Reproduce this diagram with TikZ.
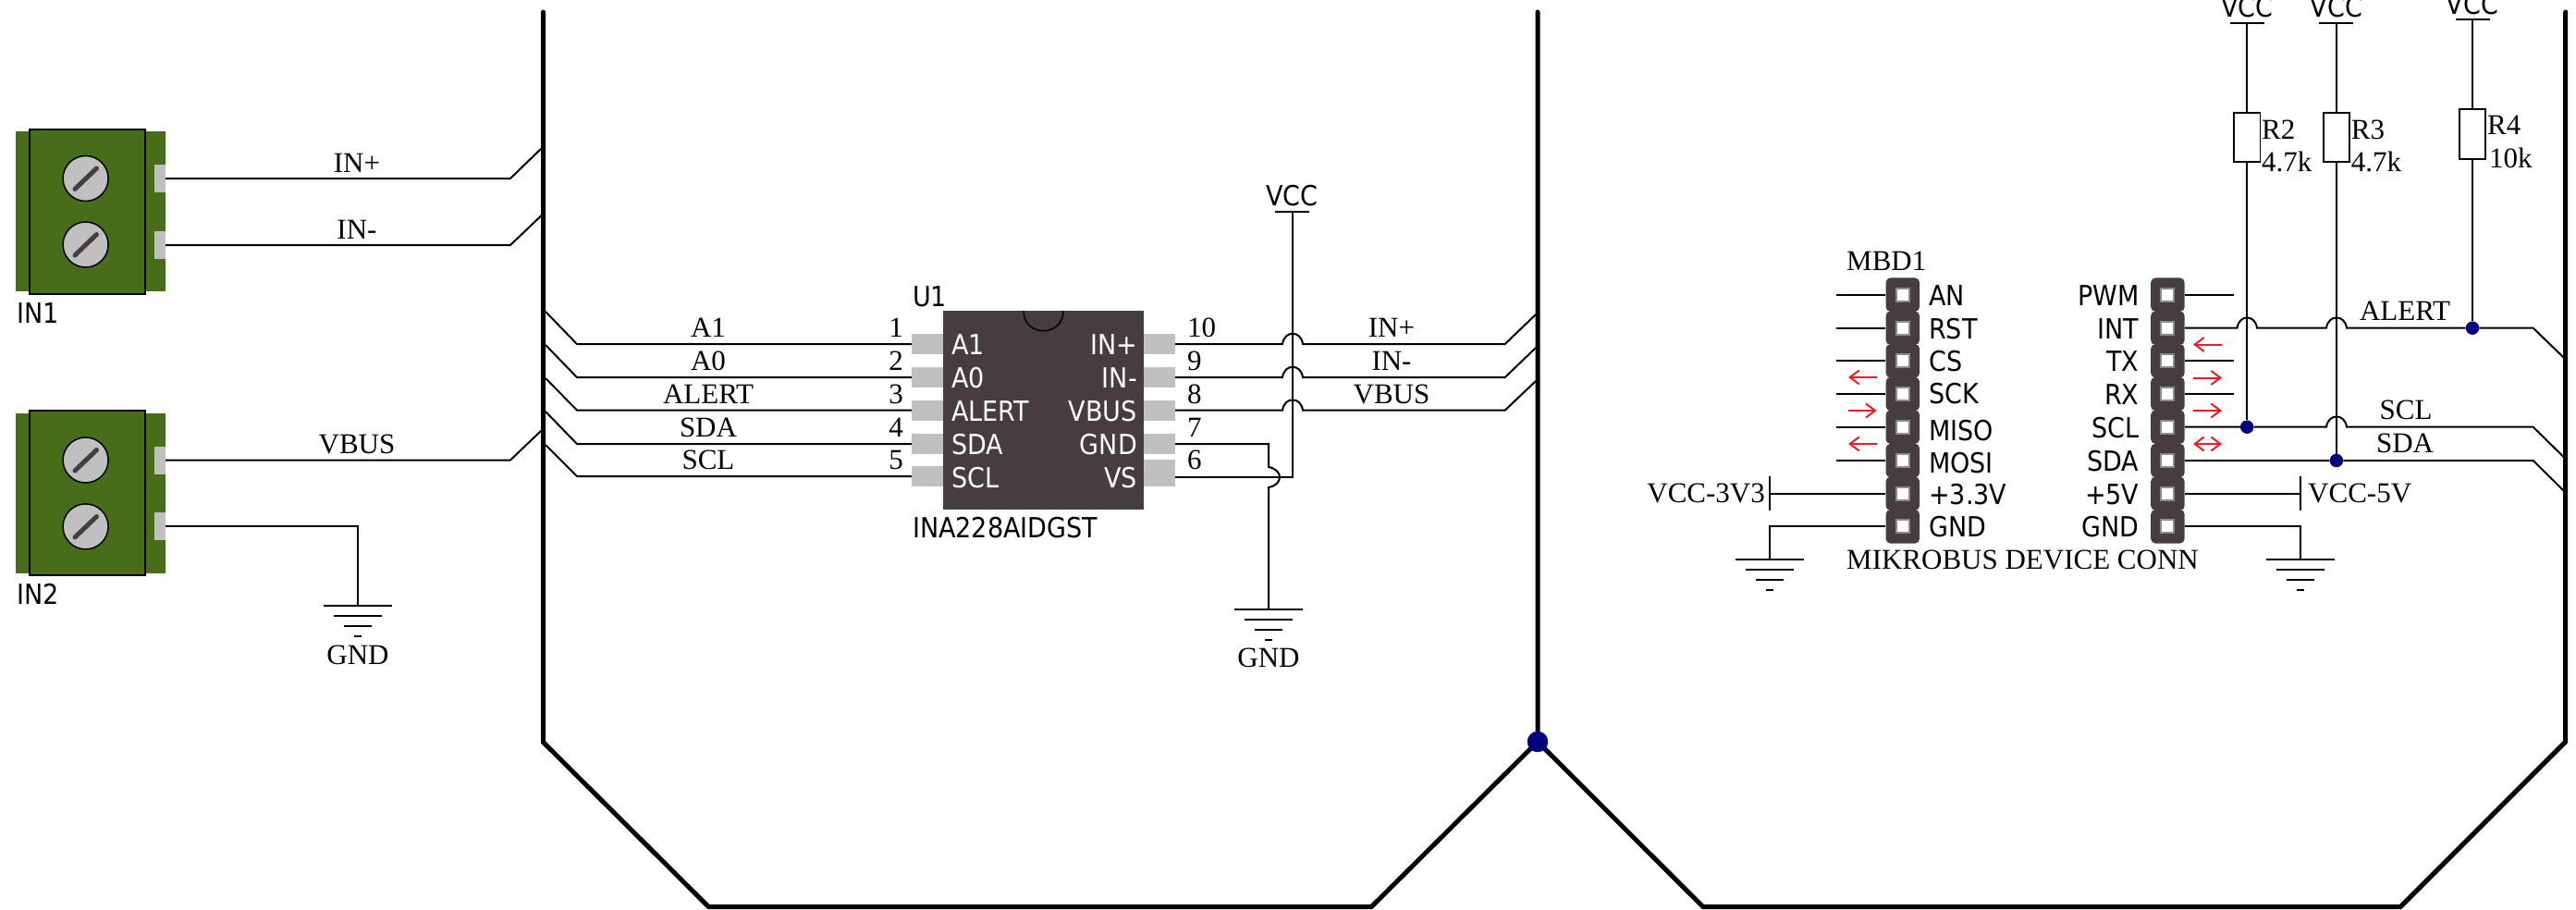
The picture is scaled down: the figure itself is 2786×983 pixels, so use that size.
\documentclass[tikz,border=0pt]{standalone}
\usepackage{fontspec}
\usetikzlibrary{arrows.meta}
\setmainfont{Liberation Serif}
\newfontfamily\sanf{DejaVu Sans Condensed}
\definecolor{icgray}{HTML}{453D3F}
\definecolor{termgreen}{HTML}{476C1A}
\definecolor{padgray}{HTML}{C0C0C0}
\definecolor{dotnavy}{HTML}{000080}
\definecolor{sigred}{HTML}{ED1C24}
\tikzset{
  ser/.style={font=\fontsize{31}{31}\selectfont,inner sep=0pt,text=black},
  san/.style={font=\fontsize{30}{30}\selectfont\sanf,inner sep=0pt,text=black},
  wht/.style={font=\fontsize{30}{30}\selectfont\sanf,inner sep=0pt,text=white},
  wire/.style={draw=black,line width=2pt},
  frame/.style={draw=black,line width=5pt,miter limit=10},
  pad/.style={rectangle,fill=padgray,inner sep=0pt,minimum width=34pt,minimum height=22pt},
  tab/.style={rectangle,fill=padgray,inner sep=0pt,minimum width=12pt,minimum height=30pt},
  screw/.style={circle,draw=black,line width=1.5pt,fill=padgray,inner sep=0pt,minimum size=49pt},
  hdr/.style={rectangle,rounded corners=5pt,fill=icgray,inner sep=0pt,minimum width=36.5pt,minimum height=36.5pt},
  hole/.style={rectangle,draw=gray!90,line width=2pt,fill=white,inner sep=0pt,minimum width=14pt,minimum height=14pt},
  res/.style={rectangle,draw=black,line width=1.8pt,fill=white,inner sep=0pt,minimum width=28.5pt,minimum height=53.5pt},
  dot/.style={circle,fill=dotnavy,inner sep=0pt,minimum size=14.5pt},
  sig/.style={draw=sigred,line width=2pt},
  rarr/.style={sig,-{Straight Barb[length=10pt,width=15pt,line width=2pt]}},
  larr/.style={sig,{Straight Barb[length=10pt,width=15pt,line width=2pt]}-},
  barr/.style={sig,{Straight Barb[length=10pt,width=15pt,line width=2pt]}-{Straight Barb[length=10pt,width=15pt,line width=2pt]}},
  gnd/.pic={
    \draw[line width=2pt] (-37,0) -- (37,0);
    \draw[line width=2pt] (-26,11) -- (26,11);
    \draw[line width=2pt] (-15,22) -- (15,22);
    \draw[line width=2pt] (-4,33) -- (4,33);
  },
  vbar/.pic={\draw[line width=2pt] (-18.5,0) -- (18.5,0);}
}
\begin{document}
\begin{tikzpicture}[x=1pt,y=-1pt]
\useasboundingbox (0,0) rectangle (2786,983);

% --- frames
\coordinate (fa) at (587.5,13);
\coordinate (fb) at (587.5,802.5);
\coordinate (fc) at (766.5,980.7);
\coordinate (fd) at (1483,980.7);
\coordinate (fe) at (1663,802);
\coordinate (ff) at (1663,13);
\coordinate (fg) at (1842,980.7);
\coordinate (fh) at (2596,980.7);
\coordinate (fi) at (2774.7,802);
\coordinate (fj) at (2774.7,13);
\draw[frame,line cap=round] (fa) -- (fb) -- (fc) -- (fd) -- (fe);
\draw[frame,line cap=round] (ff) -- (fe) -- (fg) -- (fh) -- (fi) -- (fj);
\node[circle,fill=dotnavy,inner sep=0pt,minimum size=22.5pt] (fdot) at (fe) {};

% --- terminal IN1
\fill[termgreen] (17,142) rectangle (179,315);
\node[rectangle,draw=black,line width=1.8pt,fill=termgreen,inner sep=0pt,minimum width=125pt,minimum height=178pt] (in1) at (94.5,229) {};
\node[tab] (t1) at (173,193) {};
\node[tab] (t2) at (173,265) {};
\node[screw] (s1) at (92.6,193) {};
\node[screw] (s2) at (92.6,264.5) {};
\draw[icgray,line width=5pt,line cap=round] (81,204.5) -- (104.5,182);
\draw[icgray,line width=5pt,line cap=round] (81,276) -- (104.5,253.5);
\node[san,anchor=base west] (lin1) at (18,349) {IN1};

% --- terminal IN2
\fill[termgreen] (17,447) rectangle (179,620);
\node[rectangle,draw=black,line width=1.8pt,fill=termgreen,inner sep=0pt,minimum width=125pt,minimum height=178pt] (in2) at (94.5,533) {};
\node[tab] (t3) at (173,497.5) {};
\node[tab] (t4) at (173,569.4) {};
\node[screw] (s3) at (92.6,497.5) {};
\node[screw] (s4) at (92.6,569.4) {};
\draw[icgray,line width=5pt,line cap=round] (81,509) -- (104.5,486.5);
\draw[icgray,line width=5pt,line cap=round] (81,581) -- (104.5,558.5);
\node[san,anchor=base west] (lin2) at (18,653) {IN2};

% --- terminal wires
\coordinate (e1) at (586,160);
\coordinate (e2) at (586,232.6);
\coordinate (e3) at (586,465);
\draw[wire] (t1.east) -- (552,193) -- (e1);
\draw[wire] (t2.east) -- (552,265) -- (e2);
\draw[wire] (t3.east) -- (552,497.5) -- (e3);
\node[ser,anchor=base] (l1) at (386,186) {IN+};
\node[ser,anchor=base] (l2) at (386,258) {IN-};
\node[ser,anchor=base] (l3) at (386,490) {VBUS};
\coordinate (g1) at (387,655);
\draw[wire] (t4.east) -- (387,569.4) -- (g1);
\pic at (g1) {gnd};
\node[ser,anchor=base] (l4) at (387,718) {GND};

% --- IC
\node[rectangle,fill=icgray,inner sep=0pt,minimum width=217pt,minimum height=215pt] (ic) at (1128.5,443.5) {};
\draw[black,line width=1.5pt] (1107,336) .. controls (1107,365) and (1150,365) .. (1150,336);
\foreach \n/\y in {1/372,2/408,3/443.6,4/480,5/515}
  \node[pad] (p\n) at (1003,\y) {};
\foreach \n/\y in {10/372,9/408,8/443.6,7/480}
  \node[pad] (p\n) at (1254,\y) {};
\node[pad,minimum height=29pt] (p6) at (1254,511.7) {};
\foreach \n/\t/\y in {a/A1/383.6,b/A0/419,c/ALERT/455,d/SDA/491,e/SCL/527}
  \node[wht,anchor=base west] (il\n) at (1029,\y) {\t};
\foreach \n/\t/\y in {a/IN+/383.6,b/IN-/419,c/VBUS/455,d/GND/491,e/VS/527}
  \node[wht,anchor=base east] (ir\n) at (1230,\y) {\t};
\node[san,anchor=base west] (u1) at (987,331) {U1};
\node[san,anchor=base west] (ina) at (987,581) {INA228AIDGST};

% --- IC left wires
\foreach \n/\y/\t/\top/\base in {1/372/A1/337/364,2/408/A0/373/400,3/443.6/ALERT/409/436,4/480/SDA/445/472,5/515/SCL/481/507.5}{
  \coordinate (el\n) at (590,\top);
  \draw[wire] (p\n.west) -- (624,\y) -- (el\n);
  \node[ser,anchor=base] (ln\n) at (766,\base) {\t};
  \node[ser,anchor=base east] (num\n) at (977,\base) {\n};
}
% --- IC right wires
\coordinate (er1) at (1661,340);
\coordinate (er2) at (1661,376);
\coordinate (er3) at (1661,412);
\draw[wire] (p10.east) -- (1387,372) .. controls (1389,357) and (1407,357) .. (1409,372) -- (1627.7,372) -- (er1);
\draw[wire] (p9.east) -- (1387,408) .. controls (1389,393) and (1407,393) .. (1409,408) -- (1627.7,408) -- (er2);
\draw[wire] (p8.east) -- (1387,443.6) .. controls (1389,428.6) and (1407,428.6) .. (1409,443.6) -- (1627.7,443.6) -- (er3);
\foreach \n/\base in {10/364,9/400,8/436,7/472,6/507.5}
  \node[ser,anchor=base west] (num\n) at (1284,\base) {\n};
\node[ser,anchor=base] (r1) at (1505,364) {IN+};
\node[ser,anchor=base] (r2) at (1505,400) {IN-};
\node[ser,anchor=base] (r3) at (1505,436) {VBUS};
% VCC
\coordinate (v0) at (1397.6,229);
\pic at (v0) {vbar};
\node[san,anchor=base] (vl0) at (1397.6,222.5) {VCC};
\draw[wire] ([yshift=-4.3pt]p6.east) -- (1397.6,516) -- (v0);
% GND of IC
\coordinate (g2) at (1372,658.6);
\draw[wire] (p7.east) -- (1372,480) -- (1372,505) .. controls (1388,508) and (1388,524) .. (1372,527) -- (g2);
\pic at (g2) {gnd};
\node[ser,anchor=base] (l5) at (1372,721) {GND};

% --- mikroBUS header
\foreach \n/\y in {1/318.7,2/354.7,3/390.3,4/426,5/461.7,6/498,7/533.7,8/569.3}{
  \node[hdr] (hl\n) at (2057.8,\y) {};
  \node[hdr] (hr\n) at (2344.4,\y) {};
}
\foreach \n/\y in {1/318.7,2/354.7,3/390.3,4/426,5/461.7,6/498,7/533.7,8/569.3}{
  \node[hole] (pl\n) at (2057.8,\y) {};
  \node[hole] (pr\n) at (2344.4,\y) {};
}
\foreach \n/\y in {1/318.7,2/354.7,3/390.3,4/426,5/461.7,6/498}{
  \coordinate (wl\n) at (1985.8,\y);
  \draw[wire] (hl\n.west) -- (wl\n);
}
\foreach \n/\y in {1/318.7,3/390.3,4/426}{
  \coordinate (wr\n) at (2416.4,\y);
  \draw[wire] (hr\n.east) -- (wr\n);
}
\foreach \n/\t/\y in {a/AN/330,b/RST/366,c/CS/401,d/SCK/436.7,e/MISO/476.7,f/MOSI/511.7,g/+3.3V/545,h/GND/580.7}
  \node[san,anchor=base west] (ml\n) at (2086,\y) {\t};
\foreach \n/\t/\y in {a/PWM/330,b/INT/366,c/TX/401.7,d/RX/437.7,e/SCL/473,f/SDA/509,g/+5V/545,h/GND/580.7}
  \node[san,anchor=base east] (mr\n) at (2313.6,\y) {\t};
\node[ser,anchor=base west] (mbd) at (1997,292) {MBD1};
\node[ser,anchor=base west] (mik) at (1997,615.7) {MIKROBUS DEVICE CONN};

% power stubs
\coordinate (b3a) at (1913.8,515);
\coordinate (b3b) at (1913.8,551.7);
\coordinate (b5a) at (2487.8,515);
\coordinate (b5b) at (2487.8,551.7);
\draw[wire] (b3a) -- (b3b);
\draw[wire] (b5a) -- (b5b);
\draw[wire] (hl7.west) -- (1913.8,533.7);
\draw[wire] (hr7.east) -- (2487.8,533.7);
\node[ser,anchor=base east] (v33) at (1909,543) {VCC-3V3};
\node[ser,anchor=base west] (v5) at (2496,543) {VCC-5V};
\coordinate (g3) at (1913.8,605.3);
\coordinate (g4) at (2487.8,605.3);
\draw[wire] (hl8.west) -- (1913.8,569.3) -- (g3);
\draw[wire] (hr8.east) -- (2487.8,569.3) -- (g4);
\pic at (g3) {gnd};
\pic at (g4) {gnd};

% --- resistors
\node[res] (r2box) at (2430.2,148.4) {};
\node[res] (r3box) at (2526.9,148.4) {};
\node[res] (r4box) at (2674,144.9) {};
\coordinate (v2) at (2430.2,25);
\coordinate (v3) at (2526.9,25);
\coordinate (v4) at (2674,21);
\pic at (v2) {vbar};
\pic at (v3) {vbar};
\pic at (v4) {vbar};
\node[san,anchor=base] (vl2) at (2430.2,18.3) {VCC};
\node[san,anchor=base] (vl3) at (2526.9,18.3) {VCC};
\node[san,anchor=base] (vl4) at (2674,15) {VCC};
\draw[wire] (v2) -- (r2box.north);
\draw[wire] (v3) -- (r3box.north);
\draw[wire] (v4) -- (r4box.north);
\node[ser,anchor=base west] (rn2) at (2446,150) {R2};
\node[ser,anchor=base west] (rv2) at (2446,185.7) {4.7k};
\node[ser,anchor=base west] (rn3) at (2542.7,150) {R3};
\node[ser,anchor=base west] (rv3) at (2542.7,185.7) {4.7k};
\node[ser,anchor=base west] (rn4) at (2690,145) {R4};
\node[ser,anchor=base west] (rv4) at (2692,181) {10k};

% --- junctions and bus wires
\node[dot] (d4) at (2674,354.7) {};
\node[dot] (d2) at (2430.2,461.7) {};
\node[dot] (d3) at (2526.9,498) {};
\draw[wire] (r2box.south) -- (d2);
\draw[wire] (r3box.south) -- (d3);
\draw[wire] (r4box.south) -- (d4);
\coordinate (br1) at (2773,387);
\coordinate (br2) at (2773,494.5);
\coordinate (br3) at (2773,531);
\draw[wire] (hr2.east) -- (2419.5,354.7) .. controls (2421.5,339.7) and (2439,339.7) .. (2441,354.7) -- (2516,354.7) .. controls (2518,339.7) and (2536,339.7) .. (2538,354.7) -- (d4) -- (2739.7,354.7) -- (br1);
\draw[wire] (hr5.east) -- (d2) -- (2516,461.7) .. controls (2518,446.7) and (2536,446.7) .. (2538,461.7) -- (2739.7,461.7) -- (br2);
\draw[wire] (hr6.east) -- (d3) -- (2739.7,498) -- (br3);
\node[ser,anchor=base] (sa) at (2601,346) {ALERT};
\node[ser,anchor=base] (sb) at (2602,453) {SCL};
\node[ser,anchor=base] (sc) at (2601,489) {SDA};

% --- signal arrows
\coordinate (a1s) at (1999,408);   \coordinate (a1e) at (2029.6,408);
\coordinate (a2s) at (1999,444);   \coordinate (a2e) at (2029.6,444);
\coordinate (a3s) at (1999,480);   \coordinate (a3e) at (2029.6,480);
\coordinate (a4s) at (2372,372.5); \coordinate (a4e) at (2403,372.5);
\coordinate (a5s) at (2372,408.5); \coordinate (a5e) at (2403,408.5);
\coordinate (a6s) at (2372,444);   \coordinate (a6e) at (2403,444);
\coordinate (a7s) at (2372,480);   \coordinate (a7e) at (2403,480);
\draw[larr] (a1s) -- (a1e);
\draw[rarr] (a2s) -- (a2e);
\draw[larr] (a3s) -- (a3e);
\draw[larr] (a4s) -- (a4e);
\draw[rarr] (a5s) -- (a5e);
\draw[rarr] (a6s) -- (a6e);
\draw[barr] (a7s) -- (a7e);
\end{tikzpicture}
\end{document}
